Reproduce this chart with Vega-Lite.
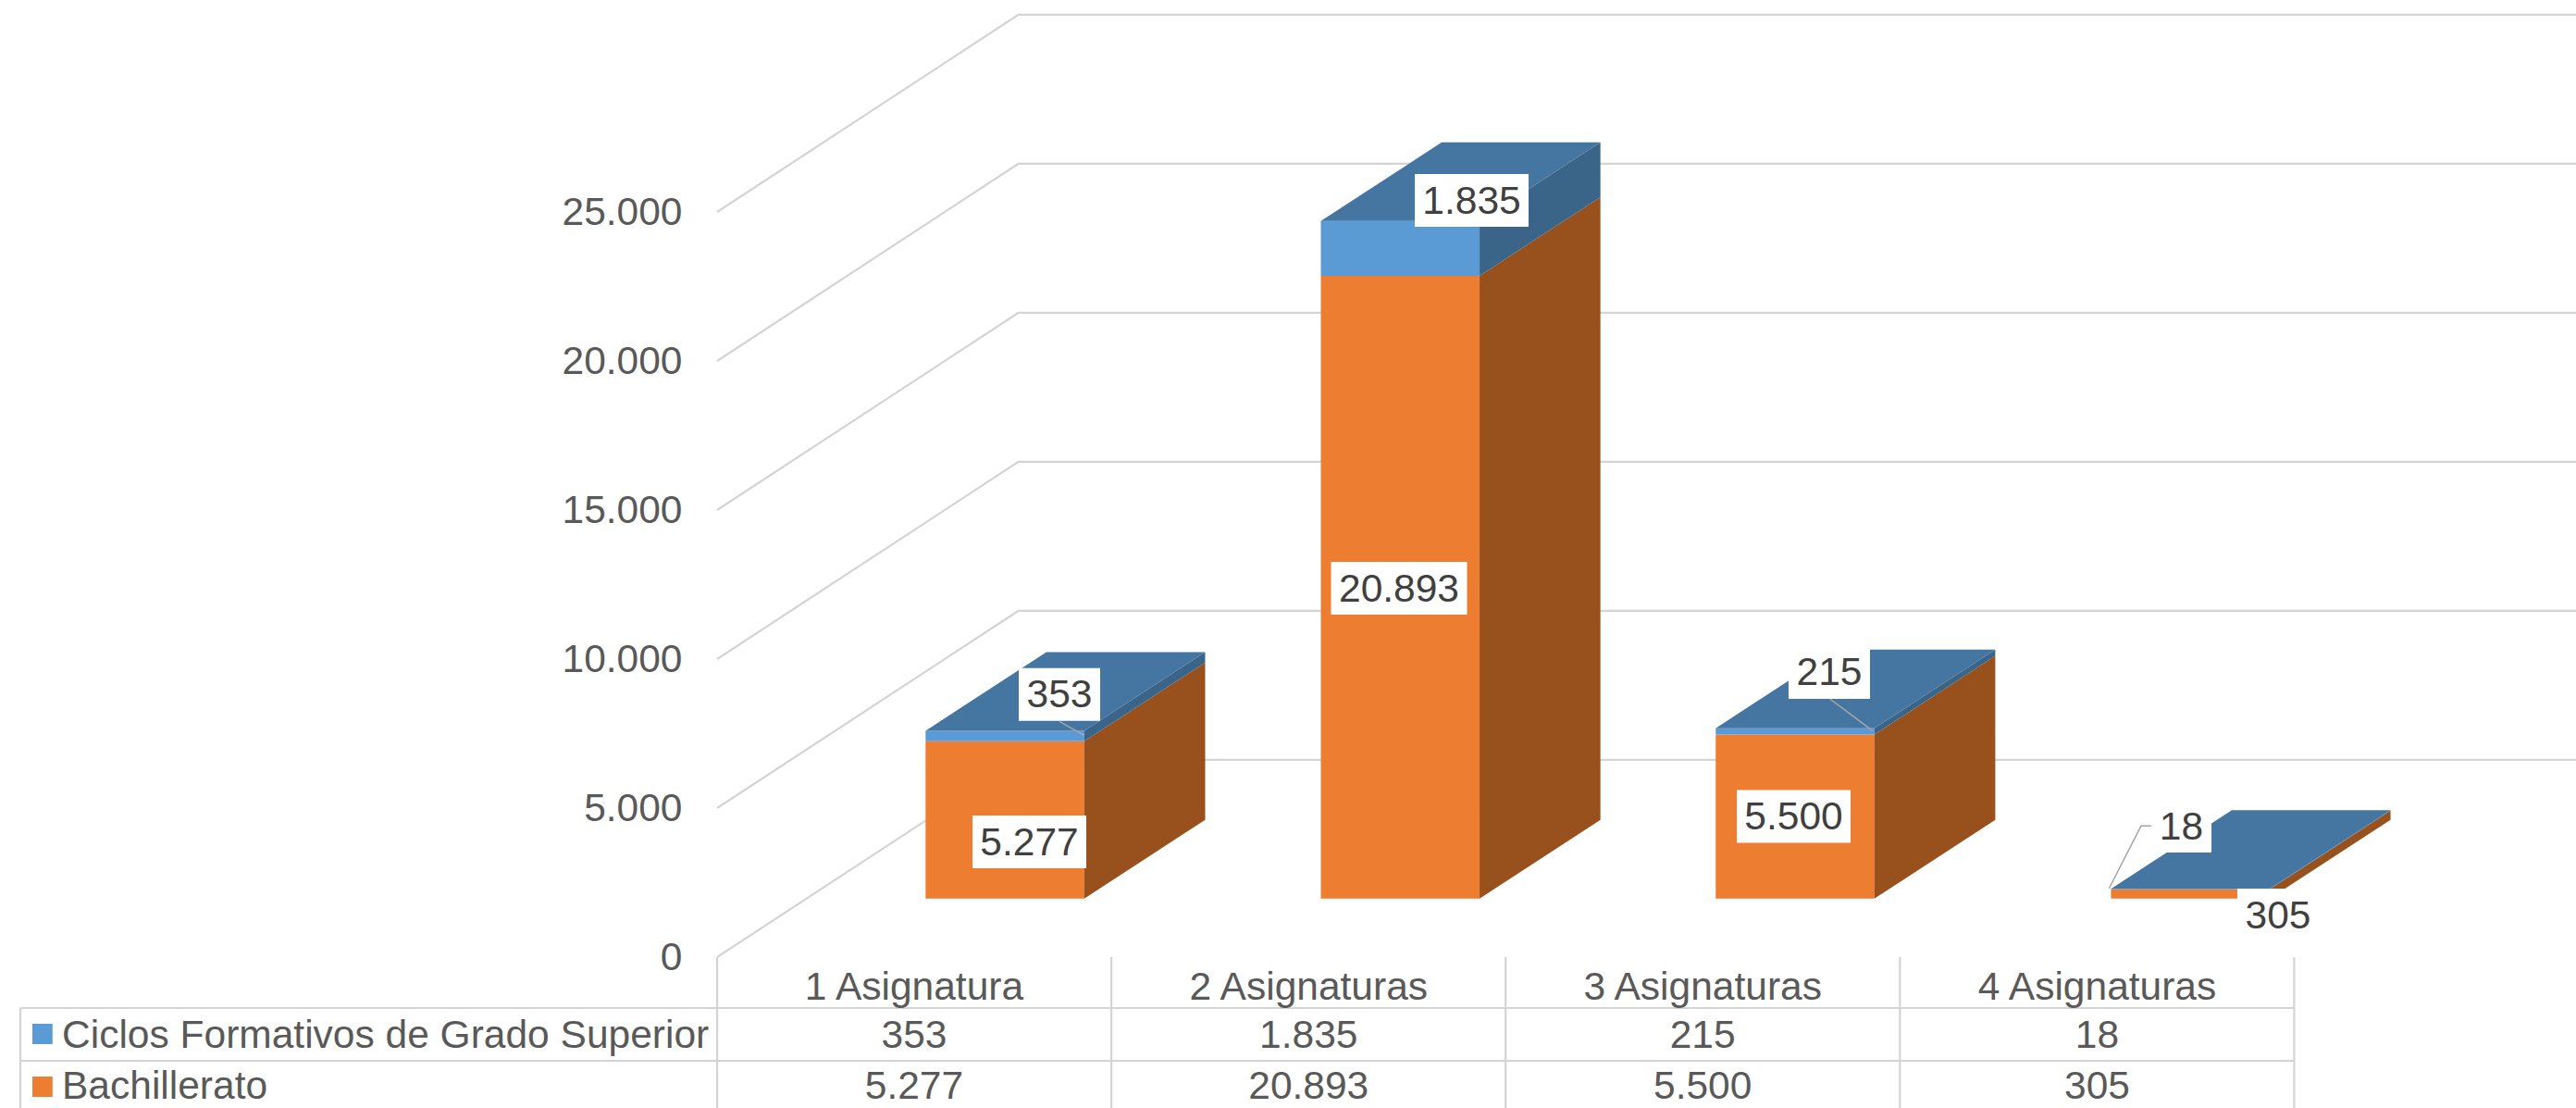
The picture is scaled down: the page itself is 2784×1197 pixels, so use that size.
{
"$schema":"https://vega.github.io/schema/vega-lite/v6.json",
"width":2009,"height":1034,
"autosize":{"type":"none"},
"padding":{"left":775,"top":0,"right":0,"bottom":163},
"background":"white",
"config":{"view":{"stroke":null},"font":"Liberation Sans","locale":{"number":{"decimal":",","thousands":".","grouping":[3],"currency":["","€"]}}},
"datasets":{
"rejilla":[
{"valor":0,"x":0,"y":0},{"valor":0,"x":0.7627,"y":6616},{"valor":0,"x":4.7077,"y":6616},
{"valor":5000,"x":0,"y":5000},{"valor":5000,"x":0.7627,"y":11616},{"valor":5000,"x":4.7077,"y":11616},
{"valor":10000,"x":0,"y":10000},{"valor":10000,"x":0.7627,"y":16616},{"valor":10000,"x":4.7077,"y":16616},
{"valor":15000,"x":0,"y":15000},{"valor":15000,"x":0.7627,"y":21616},{"valor":15000,"x":4.7077,"y":21616},
{"valor":20000,"x":0,"y":20000},{"valor":20000,"x":0.7627,"y":26616},{"valor":20000,"x":4.7077,"y":26616},
{"valor":25000,"x":0,"y":25000},{"valor":25000,"x":0.7627,"y":31616},{"valor":25000,"x":4.7077,"y":31616}
],
"tabla":[
{"x":-1.7645,"x2":3.994,"y":-1708,"y2":-1708},
{"x":-1.7645,"x2":3.994,"y":-3478,"y2":-3478},
{"x":-1.7645,"x2":-1.7645,"y":-1708,"y2":-5062},
{"x":0,"x2":0,"y":0,"y2":-5062},
{"x":0.9985,"x2":0.9985,"y":0,"y2":-5062},
{"x":1.997,"x2":1.997,"y":0,"y2":-5062},
{"x":2.9955,"x2":2.9955,"y":0,"y2":-5062},
{"x":3.994,"x2":3.994,"y":0,"y2":-5062}
],
"caras":[
{"categoria":"1 Asignatura","cara":"Bachillerato","x":0.528,"y0":1966,"y1":7243},
{"categoria":"1 Asignatura","cara":"Bachillerato","x":0.930,"y0":1966,"y1":7243},
{"categoria":"1 Asignatura","cara":"Ciclos frontal","x":0.528,"y0":7243,"y1":7596},
{"categoria":"1 Asignatura","cara":"Ciclos frontal","x":0.930,"y0":7243,"y1":7596},
{"categoria":"1 Asignatura","cara":"Bachillerato lateral","x":0.930,"y0":1966,"y1":7243},
{"categoria":"1 Asignatura","cara":"Bachillerato lateral","x":1.236,"y0":4606,"y1":9883},
{"categoria":"1 Asignatura","cara":"Ciclos lateral","x":0.930,"y0":7243,"y1":7596},
{"categoria":"1 Asignatura","cara":"Ciclos lateral","x":1.236,"y0":9883,"y1":10236},
{"categoria":"1 Asignatura","cara":"Ciclos superior","x":0.528,"y0":7596,"y1":7596},
{"categoria":"1 Asignatura","cara":"Ciclos superior","x":0.834,"y0":7596,"y1":10236},
{"categoria":"1 Asignatura","cara":"Ciclos superior","x":0.930,"y0":7596,"y1":10236},
{"categoria":"1 Asignatura","cara":"Ciclos superior","x":1.236,"y0":10236,"y1":10236},
{"categoria":"2 Asignaturas","cara":"Bachillerato","x":1.529,"y0":1966,"y1":22859},
{"categoria":"2 Asignaturas","cara":"Bachillerato","x":1.931,"y0":1966,"y1":22859},
{"categoria":"2 Asignaturas","cara":"Ciclos frontal","x":1.529,"y0":22859,"y1":24694},
{"categoria":"2 Asignaturas","cara":"Ciclos frontal","x":1.931,"y0":22859,"y1":24694},
{"categoria":"2 Asignaturas","cara":"Bachillerato lateral","x":1.931,"y0":1966,"y1":22859},
{"categoria":"2 Asignaturas","cara":"Bachillerato lateral","x":2.237,"y0":4606,"y1":25499},
{"categoria":"2 Asignaturas","cara":"Ciclos lateral","x":1.931,"y0":22859,"y1":24694},
{"categoria":"2 Asignaturas","cara":"Ciclos lateral","x":2.237,"y0":25499,"y1":27334},
{"categoria":"2 Asignaturas","cara":"Ciclos superior","x":1.529,"y0":24694,"y1":24694},
{"categoria":"2 Asignaturas","cara":"Ciclos superior","x":1.835,"y0":24694,"y1":27334},
{"categoria":"2 Asignaturas","cara":"Ciclos superior","x":1.931,"y0":24694,"y1":27334},
{"categoria":"2 Asignaturas","cara":"Ciclos superior","x":2.237,"y0":27334,"y1":27334},
{"categoria":"3 Asignaturas","cara":"Bachillerato","x":2.529,"y0":1966,"y1":7466},
{"categoria":"3 Asignaturas","cara":"Bachillerato","x":2.931,"y0":1966,"y1":7466},
{"categoria":"3 Asignaturas","cara":"Ciclos frontal","x":2.529,"y0":7466,"y1":7681},
{"categoria":"3 Asignaturas","cara":"Ciclos frontal","x":2.931,"y0":7466,"y1":7681},
{"categoria":"3 Asignaturas","cara":"Bachillerato lateral","x":2.931,"y0":1966,"y1":7466},
{"categoria":"3 Asignaturas","cara":"Bachillerato lateral","x":3.237,"y0":4606,"y1":10106},
{"categoria":"3 Asignaturas","cara":"Ciclos lateral","x":2.931,"y0":7466,"y1":7681},
{"categoria":"3 Asignaturas","cara":"Ciclos lateral","x":3.237,"y0":10106,"y1":10321},
{"categoria":"3 Asignaturas","cara":"Ciclos superior","x":2.529,"y0":7681,"y1":7681},
{"categoria":"3 Asignaturas","cara":"Ciclos superior","x":2.835,"y0":7681,"y1":10321},
{"categoria":"3 Asignaturas","cara":"Ciclos superior","x":2.931,"y0":7681,"y1":10321},
{"categoria":"3 Asignaturas","cara":"Ciclos superior","x":3.237,"y0":10321,"y1":10321},
{"categoria":"4 Asignaturas","cara":"Bachillerato","x":3.530,"y0":1966,"y1":2271},
{"categoria":"4 Asignaturas","cara":"Bachillerato","x":3.932,"y0":1966,"y1":2271},
{"categoria":"4 Asignaturas","cara":"Ciclos frontal","x":3.530,"y0":2271,"y1":2289},
{"categoria":"4 Asignaturas","cara":"Ciclos frontal","x":3.932,"y0":2271,"y1":2289},
{"categoria":"4 Asignaturas","cara":"Bachillerato lateral","x":3.932,"y0":1966,"y1":2271},
{"categoria":"4 Asignaturas","cara":"Bachillerato lateral","x":4.238,"y0":4606,"y1":4911},
{"categoria":"4 Asignaturas","cara":"Ciclos lateral","x":3.932,"y0":2271,"y1":2289},
{"categoria":"4 Asignaturas","cara":"Ciclos lateral","x":4.238,"y0":4911,"y1":4929},
{"categoria":"4 Asignaturas","cara":"Ciclos superior","x":3.530,"y0":2289,"y1":2289},
{"categoria":"4 Asignaturas","cara":"Ciclos superior","x":3.836,"y0":2289,"y1":4929},
{"categoria":"4 Asignaturas","cara":"Ciclos superior","x":3.932,"y0":2289,"y1":4929},
{"categoria":"4 Asignaturas","cara":"Ciclos superior","x":4.238,"y0":4929,"y1":4929}
],
"guias":[
{"valor":353,"x":0.8670,"y":7910},{"valor":353,"x":0.9296,"y":7444},
{"valor":215,"x":2.8182,"y":8665},{"valor":215,"x":2.9261,"y":7599},
{"valor":18,"x":3.5250,"y":2298},{"valor":18,"x":3.6063,"y":4401},{"valor":18,"x":3.6345,"y":4401}
],
"etiquetas":[
{"valor":353,"x":0.8670,"y":8811,"xa":0.7639,"xb":0.9701,"ya":7926,"yb":9696},
{"valor":5277,"x":0.7909,"y":3866,"xa":0.6468,"xb":0.9350,"ya":2981,"yb":4751},
{"valor":1835,"x":1.9110,"y":25388,"xa":1.7669,"xb":2.0551,"ya":24503,"yb":26273},
{"valor":20893,"x":1.7270,"y":12373,"xa":1.5548,"xb":1.8992,"ya":11488,"yb":13258},
{"valor":215,"x":2.8166,"y":9550,"xa":2.7135,"xb":2.9197,"ya":8665,"yb":10435},
{"valor":5500,"x":2.7264,"y":4720,"xa":2.5823,"xb":2.8705,"ya":3835,"yb":5605},
{"valor":18,"x":3.7083,"y":4394,"xa":3.6321,"xb":3.7845,"ya":3509,"yb":5279},
{"valor":305,"x":3.9531,"y":1413,"xa":3.8500,"xb":4.0562,"ya":528,"yb":2298}
],
"celdas":[
{"categoria":"1 Asignatura","serie":"Ciclos Formativos de Grado Superior","valor":353,"x":0.499,"y":-3028},
{"categoria":"2 Asignaturas","serie":"Ciclos Formativos de Grado Superior","valor":1835,"x":1.498,"y":-3028},
{"categoria":"3 Asignaturas","serie":"Ciclos Formativos de Grado Superior","valor":215,"x":2.496,"y":-3028},
{"categoria":"4 Asignaturas","serie":"Ciclos Formativos de Grado Superior","valor":18,"x":3.495,"y":-3028},
{"categoria":"1 Asignatura","serie":"Bachillerato","valor":5277,"x":0.499,"y":-4767},
{"categoria":"2 Asignaturas","serie":"Bachillerato","valor":20893,"x":1.498,"y":-4767},
{"categoria":"3 Asignaturas","serie":"Bachillerato","valor":5500,"x":2.496,"y":-4767},
{"categoria":"4 Asignaturas","serie":"Bachillerato","valor":305,"x":3.495,"y":-4767}
],
"cabecera":[
{"categoria":"1 Asignatura","x":0.499,"y":-1429},
{"categoria":"2 Asignaturas","x":1.498,"y":-1429},
{"categoria":"3 Asignaturas","x":2.496,"y":-1429},
{"categoria":"4 Asignaturas","x":3.495,"y":-1429}
],
"leyenda":[
{"serie":"Ciclos Formativos de Grado Superior","cara":"Ciclos frontal","xa":-1.734,"xb":-1.683,"ya":-2236,"yb":-2919,"xt":-1.659,"yt":-3028},
{"serie":"Bachillerato","cara":"Bachillerato","xa":-1.734,"xb":-1.683,"ya":-4006,"yb":-4689,"xt":-1.659,"yt":-4767}
]
},
"layer":[
{"data":{"name":"rejilla"},
 "mark":{"type":"line","color":"#D4D4D4","strokeWidth":2.2},
 "encoding":{
  "x":{"field":"x","type":"quantitative","axis":null,"scale":{"domain":[0,4.7077],"nice":false,"zero":false}},
  "y":{"field":"y","type":"quantitative","scale":{"domain":[0,32112],"nice":false,"zero":false},
    "axis":{"title":null,"values":[0,5000,10000,15000,20000,25000],"format":",.0f","domain":false,"ticks":false,"grid":false,"labelFont":"Liberation Sans","labelFontSize":42.5,"labelColor":"#595959","labelPadding":38,"labelOverlap":false,"labelBound":false,"labelFlush":false}},
  "detail":{"field":"valor"}}},
{"data":{"name":"tabla"},
 "mark":{"type":"rule","color":"#D4D4D4","strokeWidth":2.2},
 "encoding":{"x":{"field":"x","type":"quantitative"},"x2":{"field":"x2"},"y":{"field":"y","type":"quantitative"},"y2":{"field":"y2"}}},
{"data":{"name":"caras"},
 "mark":{"type":"area","orient":"vertical"},
 "encoding":{
  "x":{"field":"x","type":"quantitative"},
  "y":{"field":"y0","type":"quantitative"},
  "y2":{"field":"y1"},
  "color":{"field":"cara","type":"nominal","legend":null,"scale":{"domain":["Bachillerato","Ciclos frontal","Bachillerato lateral","Ciclos lateral","Ciclos superior"],"range":["#ED7D31","#5B9BD5","#98501C","#3A6589","#4575A1"]}},
  "detail":{"field":"categoria"}}},
{"data":{"name":"guias"},
 "mark":{"type":"line","color":"#A6A6A6","strokeWidth":1.5},
 "encoding":{"x":{"field":"x","type":"quantitative"},"y":{"field":"y","type":"quantitative"},"detail":{"field":"valor"}}},
{"data":{"name":"etiquetas"},
 "mark":{"type":"rect","color":"#FFFFFF"},
 "encoding":{"x":{"field":"xa","type":"quantitative"},"x2":{"field":"xb"},"y":{"field":"ya","type":"quantitative"},"y2":{"field":"yb"}}},
{"data":{"name":"etiquetas"},
 "mark":{"type":"text","fontSize":42.5,"font":"Liberation Sans","color":"#404040","align":"center","baseline":"middle","dy":1},
 "encoding":{"x":{"field":"x","type":"quantitative"},"y":{"field":"y","type":"quantitative"},"text":{"field":"valor","type":"quantitative","format":","}}},
{"data":{"name":"cabecera"},
 "mark":{"type":"text","fontSize":42.5,"font":"Liberation Sans","color":"#595959","align":"center","baseline":"alphabetic"},
 "encoding":{"x":{"field":"x","type":"quantitative"},"y":{"field":"y","type":"quantitative"},"text":{"field":"categoria","type":"nominal"}}},
{"data":{"name":"celdas"},
 "mark":{"type":"text","fontSize":42.5,"font":"Liberation Sans","color":"#595959","align":"center","baseline":"alphabetic"},
 "encoding":{"x":{"field":"x","type":"quantitative"},"y":{"field":"y","type":"quantitative"},"text":{"field":"valor","type":"quantitative","format":","}}},
{"data":{"name":"leyenda"},
 "mark":{"type":"rect"},
 "encoding":{"x":{"field":"xa","type":"quantitative"},"x2":{"field":"xb"},"y":{"field":"ya","type":"quantitative"},"y2":{"field":"yb"},
  "color":{"field":"cara","type":"nominal","legend":null}}},
{"data":{"name":"leyenda"},
 "mark":{"type":"text","fontSize":42.5,"font":"Liberation Sans","color":"#595959","align":"left","baseline":"alphabetic"},
 "encoding":{"x":{"field":"xt","type":"quantitative"},"y":{"field":"yt","type":"quantitative"},"text":{"field":"serie","type":"nominal"}}}
]
}
